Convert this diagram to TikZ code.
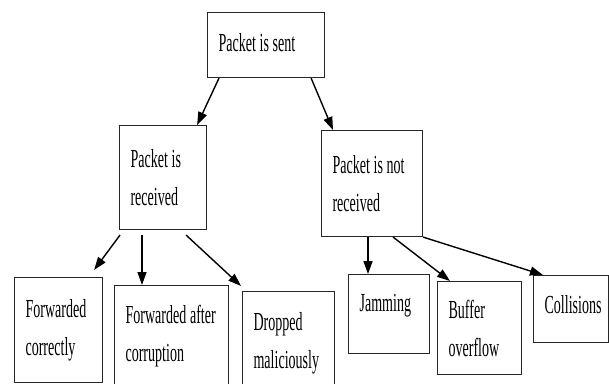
\documentclass[tikz,border=0pt]{standalone}
\usepackage{fontspec}
\newfontfamily\narrowserif[FakeStretch=0.54]{Liberation Serif}
\newcommand{\stagefont}{\narrowserif\fontsize{26}{38}\selectfont
  \fontdimen2\font=3.5pt\fontdimen3\font=1pt\fontdimen4\font=1pt\fontdimen6\font=11pt\relax}
\usetikzlibrary{arrows.meta}

\begin{document}
\begin{tikzpicture}[x=1pt,y=-1pt,
  stage/.style={draw=black!85,line width=1.1pt,anchor=north west,align=left,
    inner xsep=11pt,inner ysep=0pt,font=\stagefont},
  flow/.style={line width=1.4pt,-{Triangle[length=13pt,width=9pt]}}]
\useasboundingbox (0,0) rectangle (609,383);
% top
\node[stage,text width=95pt,minimum height=65pt,text depth=6pt] (sent) at (207,12) {Packet is sent};
% second row
\node[stage,text width=65pt,minimum height=104pt] (recv) at (119,125) {Packet is\\received};
\node[stage,text width=79pt,minimum height=106pt] (lost) at (321,130) {Packet is not\\received};
% received cases
\node[stage,text width=66pt,minimum height=105pt] (fwd) at (14,277) {Forwarded\\correctly};
\node[stage,text width=92pt,minimum height=102pt] (corrupt) at (114,285) {Forwarded after\\corruption};
\node[stage,text width=70pt,minimum height=103pt] (drop) at (242,291) {Dropped\\maliciously};
% not received cases
\node[stage,text width=59pt,minimum height=79pt,text depth=22pt] (jam) at (348,274) {Jamming};
\node[stage,text width=62pt,minimum height=93pt] (buffer) at (437,281) {Buffer\\overflow};
\node[stage,text width=53pt,minimum height=67pt,text depth=10pt] (coll) at (533,275) {Collisions};
% arrows
\draw[flow] ([xshift=12pt]sent.south west) -- ([xshift=-10pt]recv.north east);
\draw[flow] ([xshift=-14pt]sent.south east) -- ([xshift=12pt]lost.north west);
\draw[flow] ([xshift=1pt,yshift=-5pt]recv.south west) -- ([xshift=-9pt,yshift=7pt]fwd.north east);
\draw[flow] ([xshift=23pt,yshift=-5pt]recv.south west) -- ([xshift=28pt]corrupt.north west);
\draw[flow] ([xshift=-21pt,yshift=-5pt]recv.south east) -- ([xshift=-1pt,yshift=5pt]drop.north west);
\draw[flow] ([xshift=47pt]lost.south west) -- ([xshift=20pt]jam.north west);
\draw[flow] ([xshift=-30pt]lost.south east) -- ([xshift=13pt]buffer.north west);
\draw[flow] (lost.south east) -- ([xshift=10pt]coll.north west);
\end{tikzpicture}
\end{document}
